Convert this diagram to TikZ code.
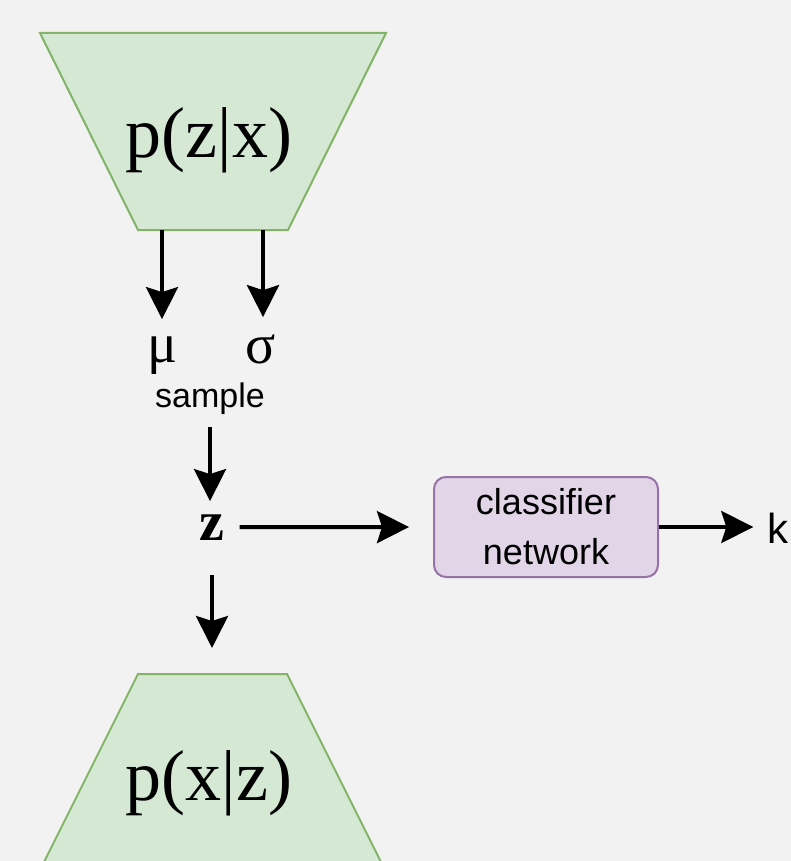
\documentclass[tikz,border=0pt]{standalone}
\usepackage{fontspec}
\setmainfont{Liberation Serif}
\setsansfont{Liberation Sans}
\usetikzlibrary{positioning,arrows.meta}

\definecolor{bgcol}{HTML}{F2F2F2}
\definecolor{greenfill}{HTML}{D5E8D4}
\definecolor{greenline}{HTML}{82B366}
\definecolor{purplefill}{HTML}{E1D5E7}
\definecolor{purpleline}{HTML}{9673A6}

\begin{document}
\begin{tikzpicture}[x=1pt, y=-1pt,
    arr/.style={-{Stealth[length=32pt, width=32pt, inset=5pt]}, line width=4pt},
    dist/.style={fill=greenfill, draw=greenline, line width=2pt, line join=miter},
    big/.style={font=\fontsize{72}{72}\selectfont, inner sep=0, anchor=base},
    greek/.style={font=\fontsize{56}{56}\selectfont, inner sep=0, anchor=base},
    txt/.style={font=\sffamily\fontsize{34}{40}\selectfont, inner sep=0, anchor=base},
    classbox/.style={rectangle, rounded corners=12pt, fill=purplefill, draw=purpleline,
      line width=2pt, minimum width=224pt, minimum height=100pt, align=center,
      font=\sffamily\fontsize{36}{50}\selectfont}]
  \clip (0,0) rectangle (791,861);
  \fill[bgcol] (0,0) rectangle (791,861);

  % encoder and decoder
  \filldraw[dist] (40,33) -- (386,33) -- (288,230) -- (138,230) -- cycle;
  \filldraw[dist] (138,674) -- (287,674) -- (385,870) -- (40,870) -- cycle;

  % nodes
  \node[big] (enc) at (209,158) {p(z|x)};
  \coordinate (encmu) at (162,230);
  \coordinate (encsig) at (263,230);
  \node[greek] (mu) at (163,362) {μ};
  \node[greek] (sig) at (261,363) {σ};
  \node[txt] (sample) at (210,407) {sample};
  \node[greek, font=\bfseries\fontsize{56}{56}\selectfont] (z) at (212,540) {z};
  \node[classbox] (cls) at (546,527) {classifier\\network};
  \node[txt, font=\sffamily\fontsize{42}{42}\selectfont] (k) at (778,543) {k};
  \node[big] (dec) at (209,800) {p(x|z)};
  \coordinate (dectop) at (212,674);

  % edges
  \draw[arr, shorten >=17pt] (encmu) -- (encmu |- mu.north);
  \draw[arr, shorten >=17pt] (encsig) -- (encsig |- sig.north);
  \draw[arr, shorten <=13pt, shorten >=13pt] (sample) -- (sample |- z.north);
  \draw[arr, shorten <=15pt, shorten >=24pt] (z) -- (cls);
  \draw[arr, shorten >=14pt] (cls) -- (cls -| k.west);
  \draw[arr, shorten <=35pt, shorten >=26pt] (z.south -| dectop) -- (dectop);
\end{tikzpicture}
\end{document}
